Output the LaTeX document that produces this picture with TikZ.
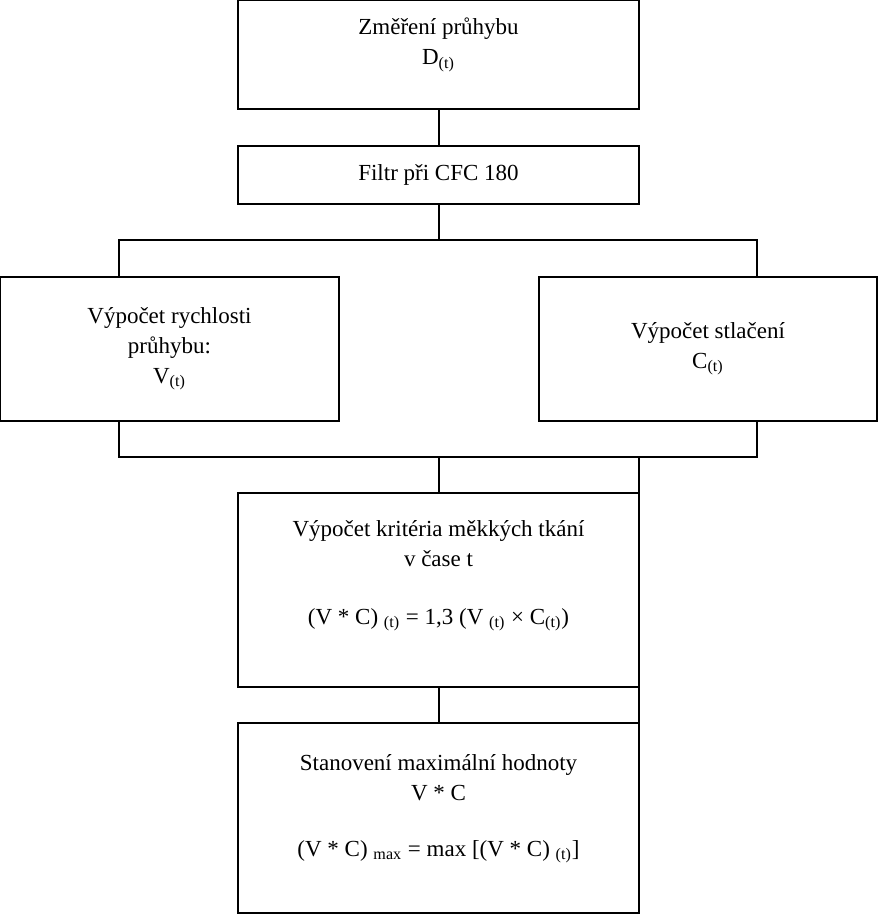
\documentclass[tikz,border=0pt]{standalone}
\usepackage{fontspec}
\setmainfont{Liberation Serif}
\usetikzlibrary{positioning}

\begin{document}
\begin{tikzpicture}
    [
        x=0.5pt, y=-0.5pt,
        node distance=18.5pt and 0pt,
        font=\fontsize{11.5}{15}\selectfont,
        block/.style={draw, rectangle, line width=1pt, align=center, inner sep=0pt, outer sep=0pt, minimum width=200.5pt},
        side/.style={block, minimum height=72pt},
        link/.style={line width=1pt}
    ]
        \useasboundingbox (0,0) rectangle (877,914);
        % =========================================================================
        % NODES
        % =========================================================================
        % --- Top ---
        \node [block, minimum height=54.5pt, text depth=13pt, anchor=north] (measure) at (438.5,0)
            {Změření průhybu\\D\textsubscript{(t)}};
        \node [block, minimum height=29pt, below=of measure] (filter) {Filtr při CFC 180};
        % --- Middle row ---
        \node [side, minimum width=169.5pt, text depth=4pt] (velocity) at (169.5,349)
            {Výpočet rychlosti\\průhybu:\\V\textsubscript{(t)}};
        \node [side, minimum width=169pt, text depth=4pt] (compress) at (708,349)
            {Výpočet stlačení\\C\textsubscript{(t)}};
        % --- Bottom ---
        \node [block, minimum height=97pt, text depth=18pt, anchor=north] (criterion) at (438.5,493)
            {Výpočet kritéria měkkých tkání\\v čase t\\[14pt]
             (V * C) \textsubscript{(t)} = 1,3 (V \textsubscript{(t)} × C\textsubscript{(t)})};
        \node [block, minimum height=95pt, text depth=13pt, below=18pt of criterion] (maximum)
            {Stanovení maximální hodnoty\\V * C\\[13pt]
             (V * C) \textsubscript{max} = max [(V * C) \textsubscript{(t)}]};
        % --- Bus points ---
        \coordinate (forkL) at (119,240);
        \coordinate (forkR) at (757,240);
        \coordinate (joinL) at (119,457);
        \coordinate (joinR) at (757,457);

        % =========================================================================
        % PATHS
        % =========================================================================
        % --- VERTICAL ---
        \draw [link] (measure.south) -- (filter.north);
        \draw [link] (filter.south) -- (filter.south |- forkL);
        \draw [link] (criterion.south) -- (maximum.north);
        % --- SPLIT ---
        \draw [link] (velocity.north -| forkL) -- (forkL) -- (forkR) -- (compress.north -| forkR);
        % --- MERGE ---
        \draw [link] (velocity.south -| joinL) -- (joinL) -- (joinR) -- (compress.south -| joinR);
        \draw [link] (joinL -| criterion.north) -- (criterion.north);
        \draw [link] (joinL -| criterion.east) -- (maximum.north east);
    \end{tikzpicture}
\end{document}
